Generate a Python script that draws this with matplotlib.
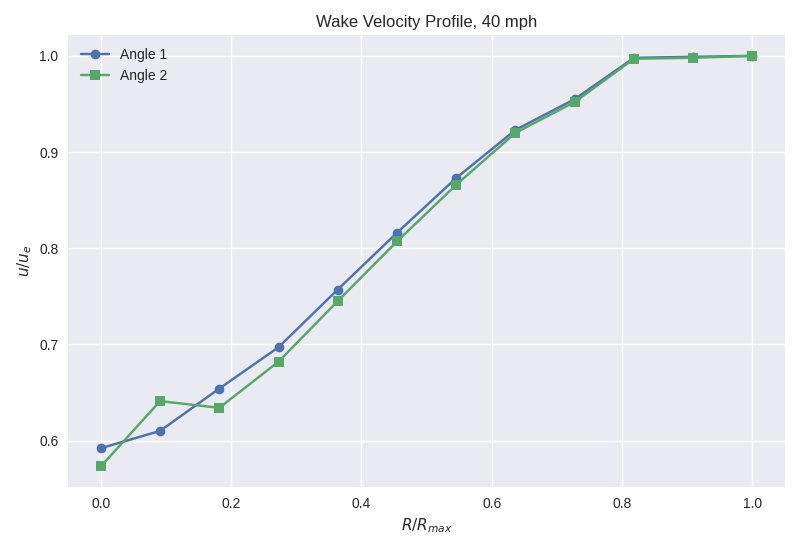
import matplotlib
matplotlib.use("Agg")
import matplotlib.pyplot as plt

r_ratio = [0.0, 0.0909, 0.1818, 0.2727, 0.3636, 0.4545, 0.5455, 0.6364, 0.7273, 0.8182, 0.9091, 1.0]
angle_1 = [0.592, 0.610, 0.654, 0.697, 0.757, 0.816, 0.873, 0.923, 0.955, 0.998, 0.999, 1.0]
angle_2 = [0.573, 0.641, 0.634, 0.682, 0.745, 0.807, 0.866, 0.920, 0.952, 0.997, 0.998, 1.0]

plt.style.use('seaborn-v0_8')
fig, ax = plt.subplots(figsize=(8, 5.5), dpi=100)
ax.plot(r_ratio, angle_1, marker='o', label='Angle 1')
ax.plot(r_ratio, angle_2, marker='s', label='Angle 2')
ax.set_xlabel(r'$R/R_{max}$')
ax.set_ylabel(r'$u/u_e$')
ax.set_title('Wake Velocity Profile, 40 mph')
ax.legend(loc='upper left')
fig.tight_layout()
fig.savefig('out.png')
